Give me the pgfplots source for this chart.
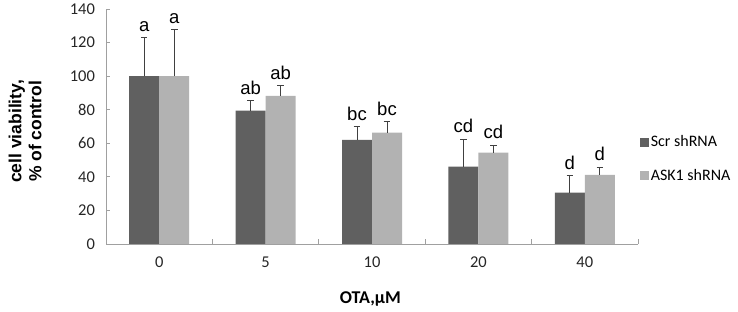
\documentclass[border=0pt]{standalone}
\usepackage{fontspec}
\setmainfont{Carlito}
\newfontfamily\arial{Liberation Sans}
\usepackage{pgfplots}
\pgfplotsset{compat=1.18}
\usepackage{pgfplotstable}

\definecolor{darkbar}{HTML}{606060}
\definecolor{lightbar}{HTML}{B2B2B2}
\definecolor{axisgray}{HTML}{A0A0A0}
\definecolor{errcol}{HTML}{404040}

\newcommand\tickfont{\fontsize{16.5pt}{18pt}\selectfont}
\newcommand\legfont{\fontsize{16pt}{18pt}\selectfont}

\pgfplotstableread{
x y err lab
0 100 23 a
1 79.4 6.1 ab
2 62 8 bc
3 46.1 16.4 cd
4 30.6 10.2 d
}\scr

\pgfplotstableread{
x y err lab
0 100 27.7 a
1 88.3 6 ab
2 66.4 6.6 bc
3 54.5 4.4 cd
4 41.2 4.6 d
}\ask

\begin{document}
\begin{tikzpicture}
\path[use as bounding box] (0pt,0pt) rectangle (738pt,312pt);
\begin{axis}[
  at={(106pt,68pt)}, anchor=south west,
  scale only axis, width=532pt, height=235pt,
  xmin=-0.5, xmax=4.5, ymin=0, ymax=140,
  axis x line*=bottom, axis y line*=left,
  axis line style={axisgray, line width=0.8pt, -},
  tick align=inside,
  major tick length=4pt, minor tick length=5pt,
  tick style={axisgray, line width=0.8pt},
  major x tick style={draw=none},
  minor x tick style={axisgray, line width=0.8pt},
  xtick={0,1,2,3,4}, xticklabels={0,5,10,20,40},
  minor xtick={0.5,1.5,2.5,3.5,4.5},
  ytick={0,20,...,140},
  /pgf/number format/assume math mode=true,
  tick label style={font=\tickfont, text=black!85},
  yticklabel style={xshift=-7.5pt},
  xticklabel style={yshift=-9.5pt},
  ylabel={cell viability,\\ \% of control},
  ylabel style={at={(axis description cs:-0.152,0.479)}, anchor=center, align=center,
    font=\arial\bfseries\fontsize{17.5pt}{20pt}\selectfont},
  xlabel={OTA,μM},
  xlabel style={at={(axis description cs:0.497,-0.234)}, anchor=center,
    font=\bfseries\fontsize{18pt}{20pt}\selectfont},
  legend style={at={(1.003,0.362)}, anchor=west, draw=none, fill=none,
    font=\legfont, row sep=17pt, inner sep=0pt},
  legend cell align=left,
  legend image code/.code={\fill[#1, draw=none] (0pt,-4.5pt) rectangle (9pt,4.5pt);},
  nodes near coords style={font=\arial\fontsize{18.5pt}{20pt}\selectfont, text=black, inner sep=0pt, yshift=6pt},
]
\addplot[ybar, bar width=30pt, bar shift=0pt, fill=darkbar, draw=none,
  error bars/.cd, y dir=plus, y explicit,
  error bar style={errcol, line width=0.8pt},
  error mark options={errcol, rotate=90, mark size=3.3pt, line width=0.8pt}]
  table[x expr=\thisrow{x}-0.141, y=y, y error=err]{\scr};
\addlegendentry{\legfont Scr shRNA}
\addplot[ybar, bar width=30pt, bar shift=0pt, fill=lightbar, draw=none,
  error bars/.cd, y dir=plus, y explicit,
  error bar style={errcol, line width=0.8pt},
  error mark options={errcol, rotate=90, mark size=3.3pt, line width=0.8pt}]
  table[x expr=\thisrow{x}+0.141, y=y, y error=err]{\ask};
\addlegendentry{\legfont ASK1 shRNA}
\addplot[draw=none, forget plot, nodes near coords, point meta=explicit symbolic]
  table[x expr=\thisrow{x}-0.141, y expr=\thisrow{y}+\thisrow{err}, meta=lab]{\scr};
\addplot[draw=none, forget plot, nodes near coords, point meta=explicit symbolic]
  table[x expr=\thisrow{x}+0.141, y expr=\thisrow{y}+\thisrow{err}, meta=lab]{\ask};
\end{axis}
\end{tikzpicture}
\end{document}
